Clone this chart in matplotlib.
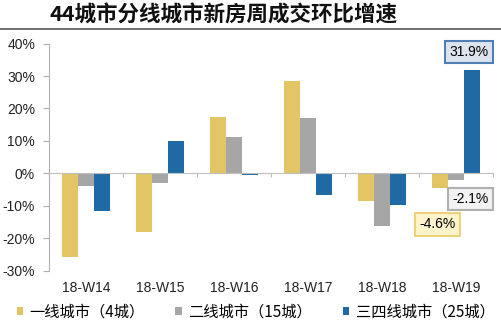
import matplotlib
matplotlib.use("Agg")
import matplotlib.pyplot as plt
import numpy as np

plt.rcParams['font.family'] = ['Liberation Sans', 'Noto Sans CJK SC', 'DejaVu Sans']

categories = ["18-W14", "18-W15", "18-W16", "18-W17", "18-W18", "18-W19"]
series_names = ["一线城市（4城）", "二线城市（15城）", "三四线城市（25城）"]
tier1 = [-25.9, -18.0, 17.5, 28.4, -8.6, -4.6]
tier2 = [-3.9, -3.0, 11.1, 17.1, -16.2, -2.1]
tier34 = [-11.6, 10.0, -0.6, -6.7, -9.7, 31.9]
yticks = [-30, -20, -10, 0, 10, 20, 30, 40]
title = "44城市分线城市新房周成交环比增速"

colors = ["#E3C565", "#A6A6A6", "#1F6AA5"]

fig = plt.figure(figsize=(5.01, 3.24), dpi=100)
ax = fig.add_axes([0.0978, 0.1645, 0.886, 0.701])

x = np.arange(len(categories))
w = 0.216
series = [tier1, tier2, tier34]
for i, (vals, c, name) in enumerate(zip(series, colors, series_names)):
    ax.bar(x + (i - 1) * w, vals, width=w, color=c, label=name, edgecolor='none')

ax.set_xlim(-0.5, len(categories) - 0.5)
ax.set_ylim(-30, 40)
ax.set_yticks(yticks)
ax.set_yticklabels([f"{v}%" for v in yticks], fontsize=10, color="#222222")
ax.set_xticks(np.arange(-0.5, len(categories), 1.0))
ax.set_xticklabels([])
ax.tick_params(axis='y', direction='out', length=4, color='#b0b0b0', pad=6)
ax.tick_params(axis='x', direction='out', length=3, color='#c0c0c0')

for s in ['top', 'right']:
    ax.spines[s].set_visible(False)
ax.spines['left'].set_color('#b0b0b0')
ax.spines['bottom'].set_color('#c0c0c0')
ax.spines['bottom'].set_position(('data', 0))

for xi, lab in zip(x, categories):
    ax.text(xi, -0.075, lab, transform=ax.get_xaxis_transform(),
            ha='center', va='center', fontsize=10, color='#222222')

# annotations
ax.text(5.18, 37.4, f"{tier34[5]}%", ha='center', va='center', fontsize=10,
        bbox=dict(boxstyle='square,pad=0.32', fc='#dde4ee', ec='#4f7fb3', lw=1.5))
ax.text(5.20, -7.9, f"{tier2[5]}%", ha='center', va='center', fontsize=10,
        bbox=dict(boxstyle='square,pad=0.32', fc='#f2f2f2', ec='#b0b0b0', lw=1.5))
ax.text(4.757, -15.7, f"{tier1[5]}%", ha='center', va='center', fontsize=10,
        bbox=dict(boxstyle='square,pad=0.32', fc='#fff3cc', ec='#ecd27a', lw=1.5))

# title and rule
fig.text(0.447, 0.955, title, ha='center', va='center', fontsize=15.5,
         fontweight='bold', family=['Noto Sans CJK SC', 'DejaVu Sans'], color='#111111')
fig.add_artist(plt.Line2D([0, 1], [1 - 29 / 324, 1 - 29 / 324], color='#555555', lw=1.2,
                          transform=fig.transFigure))

handles, labels = ax.get_legend_handles_labels()
fig.legend(handles, labels, loc='center', bbox_to_anchor=(0.51, 1 - 312 / 324), ncol=3,
           frameon=False, handlelength=0.45, handleheight=0.45, handletextpad=0.4,
           columnspacing=2.0, borderpad=0, borderaxespad=0,
           prop={'family': ['Noto Sans CJK SC', 'DejaVu Sans'], 'size': 11})

fig.savefig("out.png", dpi=100)
